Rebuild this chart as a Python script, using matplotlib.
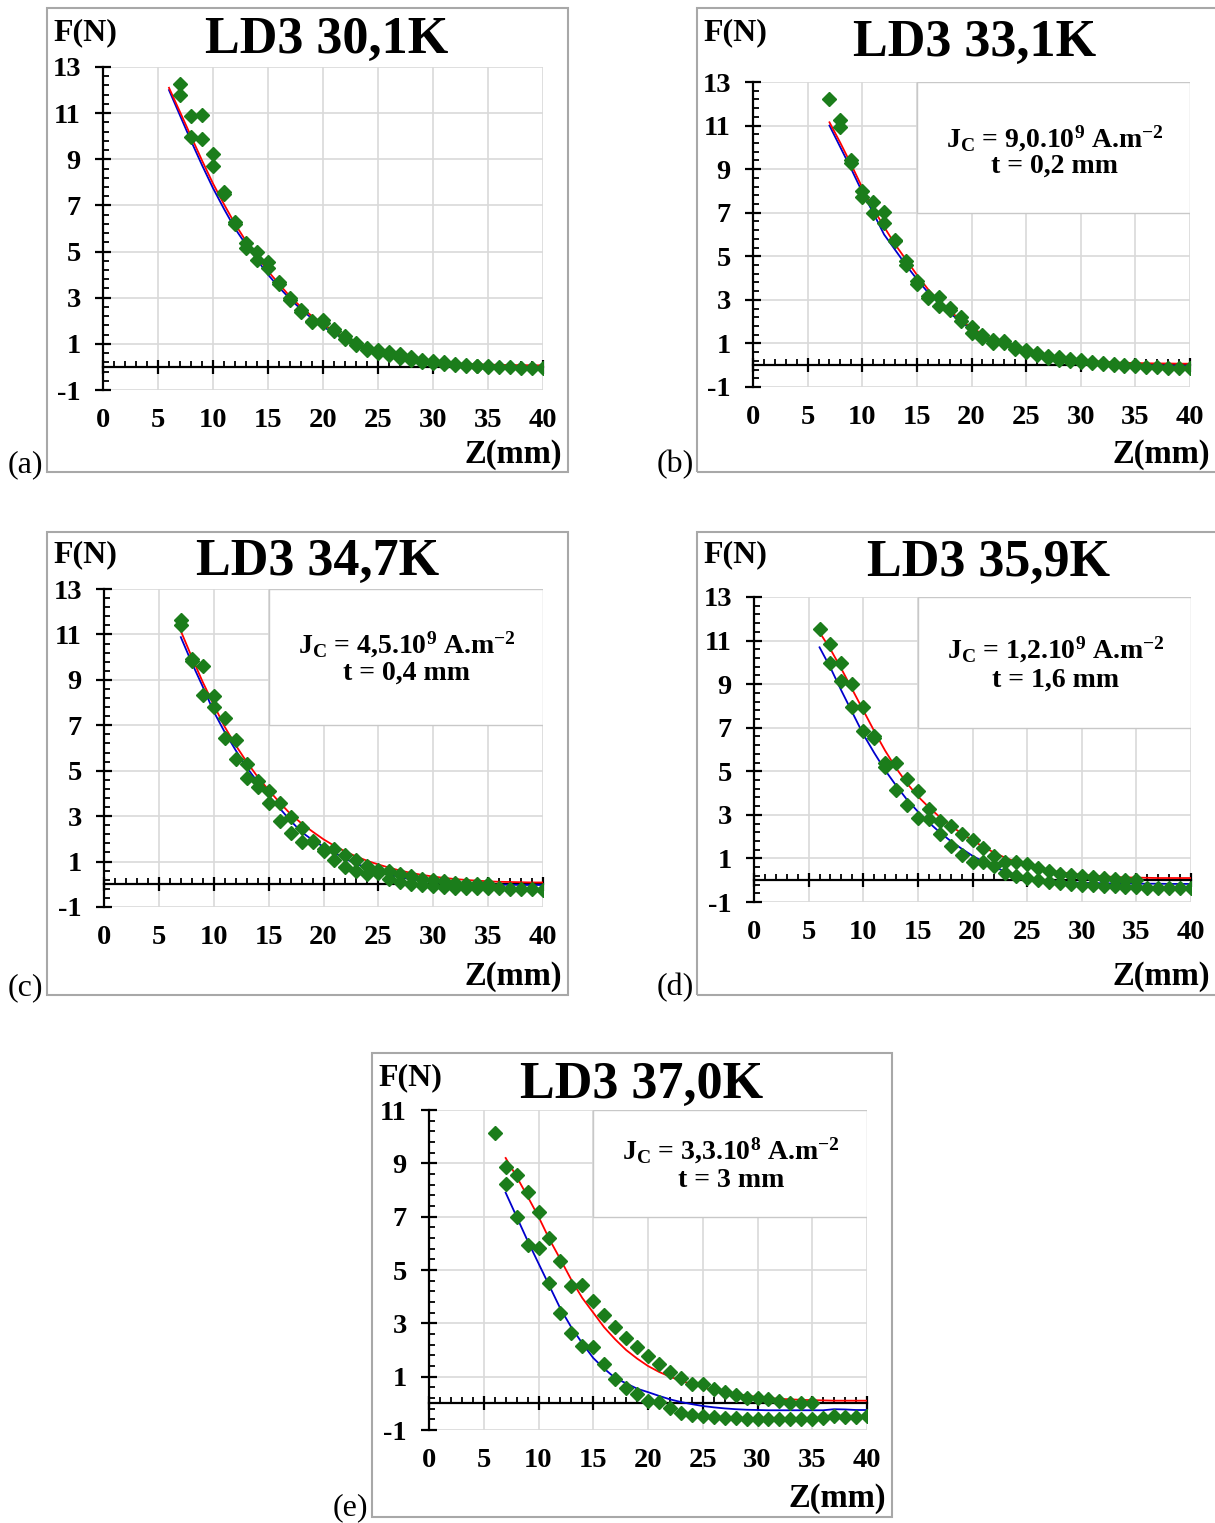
import numpy as np
import matplotlib
matplotlib.use("Agg")
import matplotlib.pyplot as plt
from matplotlib.patches import Rectangle
from matplotlib.ticker import FixedLocator, MultipleLocator

plt.rcParams['font.family'] = ['Liberation Serif', 'DejaVu Serif']
plt.rcParams['mathtext.fontset'] = 'custom'
plt.rcParams['mathtext.rm'] = 'Liberation Serif'
plt.rcParams['mathtext.bf'] = 'Liberation Serif:bold'
plt.rcParams['mathtext.it'] = 'Liberation Serif:italic'
plt.rcParams['axes.unicode_minus'] = False

# ---------------- data ----------------
titles = ["LD3 30,1K", "LD3 33,1K", "LD3 34,7K", "LD3 35,9K", "LD3 37,0K"]
panel_tags = ["(a)", "(b)", "(c)", "(d)", "(e)"]
jc_texts = [None, "9,0.10", "4,5.10", "1,2.10", "3,3.10"]
jc_exp = [None, "9", "9", "9", "8"]
t_texts = [None, "t = 0,2 mm", "t = 0,4 mm", "t = 1,6 mm", "t = 3 mm"]
y_tops = [13, 13, 13, 13, 11]

# measured force, two branches (upper / lower)
a_up = [12.28, 10.89, 10.91, 9.23, 7.6, 6.3, 5.37, 4.97, 4.55, 3.7, 3.0, 2.45, 2.0, 2.04, 1.66, 1.32,
        1.03, 0.8, 0.75, 0.64, 0.54, 0.43, 0.32, 0.25, 0.2, 0.13, 0.1, 0.06, 0.03]
a_dn = [11.78, 9.95, 9.88, 8.71, 7.5, 6.2, 5.16, 4.65, 4.29, 3.6, 2.9, 2.38, 1.94, 1.9, 1.55, 1.2,
        0.95, 0.72, 0.62, 0.52, 0.4, 0.3, 0.22, 0.17, 0.12, 0.08, 0.05, 0.02, 0.0, 0.0, -0.01, -0.03, -0.04, -0.04]
a_red = [12.1, 11.05, 10.0, 8.95, 7.95, 7.05, 6.2, 5.45, 4.8, 4.15, 3.6, 3.05, 2.6, 2.2, 1.85, 1.55, 1.28,
         1.05, 0.86, 0.7, 0.57, 0.46, 0.37, 0.3, 0.24, 0.2, 0.16, 0.13, 0.11, 0.1, 0.09, 0.08, 0.08, 0.07, 0.07]
a_blue = [12.0, 10.9, 9.8, 8.75, 7.75, 6.85, 6.0, 5.3, 4.65, 4.0, 3.45, 2.95, 2.5, 2.1, 1.75, 1.45, 1.2,
          1.0, 0.8, 0.65, 0.52, 0.42, 0.33, 0.26, 0.2, 0.16, 0.12, 0.09, 0.07, 0.05, 0.04, 0.03, 0.03, 0.02, 0.02]

b_up = [12.22, 11.27, 9.4, 7.98, 7.5, 7.02, 5.77, 4.77, 3.86, 3.17, 3.12, 2.63, 2.2, 1.75, 1.38, 1.18,
        1.1, 0.83, 0.69, 0.54, 0.42, 0.38, 0.28, 0.22, 0.17, 0.1, 0.05, 0.02, 0.0]
b_dn = [10.92, 9.3, 7.71, 6.99, 6.53, 5.7, 4.6, 3.73, 3.1, 2.71, 2.55, 2.05, 1.49, 1.26, 1.03, 1.0,
        0.75, 0.6, 0.45, 0.35, 0.25, 0.2, 0.15, 0.1, 0.05, 0.0, -0.02, -0.04, -0.07, -0.1, -0.12, -0.13, -0.15]
b_red = [11.15, 10.2, 9.2, 8.15, 7.2, 6.35, 5.55, 4.85, 4.15, 3.5, 2.95, 2.5, 2.08, 1.72, 1.44, 1.18, 0.98,
         0.8, 0.65, 0.53, 0.43, 0.35, 0.29, 0.24, 0.2, 0.16, 0.13, 0.11, 0.1, 0.09, 0.08, 0.08, 0.07, 0.07]
b_blue = [11.0, 10.0, 9.0, 7.95, 7.0, 6.0, 5.3, 4.6, 3.95, 3.35, 2.85, 2.4, 2.0, 1.65, 1.38, 1.12, 0.92,
          0.74, 0.6, 0.48, 0.38, 0.3, 0.23, 0.17, 0.13, 0.09, 0.06, 0.04, 0.02, 0.01, 0.0, 0.0, -0.01, -0.01]

c_up = [11.64, 9.93, 9.59, 8.28, 7.34, 6.37, 5.29, 4.54, 4.1, 3.56, 2.98, 2.5, 1.92, 1.55, 1.54, 1.29,
        1.07, 0.81, 0.63, 0.58, 0.47, 0.36, 0.22, 0.17, 0.15, 0.07, 0.02, 0.0, 0.0]
c_dn = [11.4, 9.85, 8.32, 7.81, 6.42, 5.5, 4.69, 4.29, 3.6, 2.8, 2.24, 1.88, 1.85, 1.45, 1.07, 0.78,
        0.6, 0.45, 0.5, 0.22, 0.12, 0.0, -0.04, -0.07, -0.12, -0.15, -0.15, -0.16, -0.17, -0.18, -0.2, -0.2, -0.22, -0.25]
c_red = [11.15, 10.0, 8.9, 7.9, 6.93, 6.12, 5.39, 4.73, 4.15, 3.6, 3.09, 2.68, 2.32, 1.98, 1.69, 1.44, 1.22,
         1.03, 0.87, 0.73, 0.6, 0.5, 0.41, 0.34, 0.28, 0.23, 0.19, 0.16, 0.13, 0.11, 0.1, 0.09, 0.08, 0.08]
c_blue = [10.88, 9.75, 8.7, 7.6, 6.7, 5.9, 5.15, 4.5, 3.9, 3.35, 2.8, 2.3, 1.95, 1.65, 1.38, 1.12, 0.9,
          0.72, 0.55, 0.42, 0.31, 0.22, 0.15, 0.1, 0.06, 0.03, 0.01, 0.0, -0.01, -0.02, -0.02, -0.03, -0.03, -0.03]

d_up = [11.52, 10.82, 9.98, 8.99, 7.93, 6.6, 5.38, 5.38, 4.66, 4.09, 3.29, 2.7, 2.48, 2.1, 1.83, 1.49,
        1.11, 0.85, 0.85, 0.73, 0.58, 0.43, 0.27, 0.24, 0.2, 0.15, 0.09, 0.05, 0.0, 0.0]
d_dn = [9.98, 9.15, 7.93, 6.83, 6.55, 5.18, 4.16, 3.45, 2.87, 2.8, 2.1, 1.57, 1.14, 0.85, 0.85, 0.66,
        0.35, 0.2, 0.09, 0.0, -0.06, -0.15, -0.18, -0.21, -0.24, -0.26, -0.28, -0.3, -0.33, -0.37, -0.37,
        -0.37, -0.38, -0.34]
d_red = [11.38, 10.6, 9.7, 8.75, 7.8, 6.85, 5.95, 5.15, 4.45, 3.85, 3.35, 2.9, 2.5, 2.15, 1.83, 1.53, 1.26,
         1.03, 0.84, 0.68, 0.55, 0.45, 0.37, 0.3, 0.25, 0.21, 0.18, 0.15, 0.13, 0.12, 0.11, 0.1, 0.1, 0.1, 0.1]
d_blue = [10.69, 9.75, 8.7, 7.7, 6.7, 5.85, 5.05, 4.35, 3.7, 3.15, 2.65, 2.2, 1.8, 1.45, 1.12, 0.85, 0.6,
          0.4, 0.25, 0.12, 0.03, -0.03, -0.08, -0.1, -0.12, -0.13, -0.14, -0.15, -0.15, -0.16, -0.16, -0.16,
          -0.17, -0.17, -0.17]

e_up = [10.14, 8.85, 8.57, 7.91, 7.16, 6.21, 5.34, 4.41, 4.43, 3.85, 3.32, 2.86, 2.45, 2.11, 1.78, 1.49,
        1.18, 0.95, 0.71, 0.71, 0.55, 0.43, 0.3, 0.21, 0.21, 0.15, 0.09, 0.03, 0.0, 0.0]
e_dn = [8.23, 6.99, 5.94, 5.84, 4.51, 3.39, 2.65, 2.15, 2.11, 1.46, 0.91, 0.59, 0.34, 0.1, 0.05, -0.16,
        -0.35, -0.45, -0.48, -0.51, -0.54, -0.56, -0.58, -0.6, -0.6, -0.6, -0.6, -0.6, -0.58, -0.54, -0.48,
        -0.5, -0.51, -0.48]
e_red = [9.2, 8.5, 7.76, 7.0, 6.15, 5.4, 4.63, 3.95, 3.4, 2.85, 2.4, 2.0, 1.68, 1.4, 1.18, 1.0, 0.85,
         0.72, 0.6, 0.5, 0.42, 0.35, 0.29, 0.24, 0.2, 0.17, 0.15, 0.13, 0.12, 0.11, 0.1, 0.1, 0.1, 0.1]
e_blue = [7.9, 7.0, 6.1, 5.25, 4.4, 3.55, 2.85, 2.25, 1.7, 1.3, 0.95, 0.75, 0.55, 0.42, 0.28, 0.15, 0.05,
          -0.03, -0.1, -0.15, -0.19, -0.22, -0.24, -0.25, -0.26, -0.26, -0.26, -0.26, -0.26, -0.26, -0.22,
          -0.23, -0.25, -0.25]

# z start positions of each series
up_start = [7, 7, 7, 6, 6]
dn_start = [7, 8, 7, 7, 7]
fit_start = [6, 7, 7, 6, 7]
ups = [a_up, b_up, c_up, d_up, e_up]
dns = [a_dn, b_dn, c_dn, d_dn, e_dn]
reds = [a_red, b_red, c_red, d_red, e_red]
blues = [a_blue, b_blue, c_blue, d_blue, e_blue]

# ---------------- layout (pixels) ----------------
W, H = 1215, 1523
axes_px = [(103, 543, 67, 390), (753, 1190, 82, 387), (104, 543, 589, 907),
           (754, 1191, 597, 902), (429, 867, 1110, 1430)]
frames_px = [(47, 8, 568, 472), (697, 8, 1222, 472), (47, 532, 568, 995),
             (697, 532, 1222, 995), (372, 1053, 892, 1517)]
fn_px = [(53, 33), (703, 33), (53, 555), (703, 555), (378, 1078)]
title_px = [(327, 40), (975, 43), (318, 562), (988, 563), (642, 1085)]
zmm_px = [(562, 455), (1210, 455), (562, 977), (1210, 977), (886, 1498)]
tag_px = [(8, 465), (657, 465), (8, 988), (657, 988), (333, 1508)]
box_line_y = [None, (10.4, 9.15), (10.55, 9.3), (10.55, 9.2), (9.45, 8.35)]

GREEN = '#1b7d1b'

fig = plt.figure(figsize=(W / 100, H / 100), dpi=100)


def fx(p):
    return p / W


def fy(p):
    return 1 - p / H


for i in range(5):
    x0, y0, x1, y1 = frames_px[i]
    fig.patches.append(Rectangle((fx(x0), fy(y1)), fx(x1 - x0), (y1 - y0) / H,
                                 transform=fig.transFigure, fill=False,
                                 edgecolor='#a8a8a8', lw=1.5, zorder=0))
    ax0, ax1, ay0, ay1 = axes_px[i]
    ax = fig.add_axes([fx(ax0), fy(ay1), (ax1 - ax0) / W, (ay1 - ay0) / H])
    top = y_tops[i]
    ax.set_xlim(0, 40)
    ax.set_ylim(-1, top)
    ax.set_axisbelow(True)

    zf = np.arange(fit_start[i], fit_start[i] + len(reds[i]))
    ax.plot(zf, blues[i], color='#0000cc', lw=1.3, zorder=3)
    ax.plot(zf, reds[i], color='#ff0000', lw=1.3, zorder=3)
    zu = np.arange(up_start[i], up_start[i] + len(ups[i]))
    zd = np.arange(dn_start[i], dn_start[i] + len(dns[i]))
    ax.plot(zd, dns[i], ls='none', marker='D', ms=7.4, color=GREEN, mec=GREEN, zorder=4)
    ax.plot(zu, ups[i], ls='none', marker='D', ms=7.4, color=GREEN, mec=GREEN, zorder=4)

    for s in ['top', 'right']:
        ax.spines[s].set_visible(False)
    ax.spines['bottom'].set_position(('data', 0))
    ax.spines['bottom'].set_linewidth(1.6)
    ax.spines['left'].set_linewidth(1.6)

    ax.set_xticks(np.arange(0, 41, 5))
    ax.xaxis.set_minor_locator(MultipleLocator(1))
    ax.set_yticks(np.arange(-1, top + 0.1, 2))
    ax.yaxis.set_minor_locator(FixedLocator(np.arange(-1, top + 0.01, 0.4)))
    ax.tick_params(axis='x', which='major', direction='inout', length=10, width=1.6,
                   labelbottom=False)
    ax.tick_params(axis='x', which='minor', direction='in', length=4.5, width=1.3)
    ax.tick_params(axis='y', which='major', direction='inout', length=12, width=1.6,
                   pad=10, labelsize=20.5)
    ax.tick_params(axis='y', which='minor', direction='in', length=4.5, width=1.3)
    for lab in ax.get_yticklabels():
        lab.set_fontweight('bold')
    ax.grid(True, which='major', color='#d9d9d9', lw=1.2)

    sec = ax.secondary_xaxis('bottom')
    sec.set_xticks(np.arange(0, 41, 5))
    sec.spines['bottom'].set_visible(False)
    sec.tick_params(axis='x', length=0, pad=13, labelsize=20.5)
    for lab in sec.get_xticklabels():
        lab.set_fontweight('bold')

    if jc_texts[i] is not None:
        ax.add_patch(Rectangle((15, 7), 25, top - 7, facecolor='white',
                               edgecolor='#c8c8c8', lw=1.0, zorder=2))
        l1, l2 = box_line_y[i]
        ax.text(27.6, l1, r'J$_{\mathbf{C}}$ = ' + jc_texts[i] + r'$^{\mathbf{' + jc_exp[i] +
                r'}}$ A.m$^{\mathbf{-2}}$', ha='center', va='center', fontsize=20,
                fontweight='bold', zorder=5)
        ax.text(27.6, l2, t_texts[i], ha='center', va='center', fontsize=20,
                fontweight='bold', zorder=5)

    fig.text(fx(fn_px[i][0]), fy(fn_px[i][1]), 'F(N)', ha='left', va='center',
             fontsize=23, fontweight='bold')
    fig.text(fx(title_px[i][0]), fy(title_px[i][1]), titles[i], ha='center', va='center',
             fontsize=37.5, fontweight='bold')
    fig.text(fx(zmm_px[i][0]), fy(zmm_px[i][1]), 'Z(mm)', ha='right', va='center',
             fontsize=23.5, fontweight='bold')
    fig.text(fx(tag_px[i][0]), fy(tag_px[i][1]), panel_tags[i], ha='left', va='center',
             fontsize=23)

fig.savefig('out.png', dpi=100)
